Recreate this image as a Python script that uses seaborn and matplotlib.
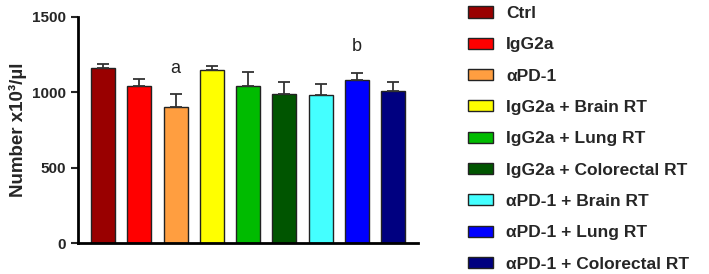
import numpy as np
import pandas as pd
import matplotlib
matplotlib.use("Agg")
import matplotlib.pyplot as plt
import seaborn as sns

groups = ["Ctrl", "IgG2a", "\u03b1PD-1", "IgG2a + Brain RT", "IgG2a + Lung RT",
          "IgG2a + Colorectal RT", "\u03b1PD-1 + Brain RT", "\u03b1PD-1 + Lung RT",
          "\u03b1PD-1 + Colorectal RT"]
means = [1163, 1044, 900, 1148, 1042, 987, 982, 1082, 1007]
sem = [25, 44, 89, 29, 95, 79, 71, 48, 64]
colors = ["#990000", "#ff0000", "#ff9e40", "#ffff00", "#00bb00",
          "#005500", "#44ffff", "#0000ff", "#000080"]
annotations = {2: "a", 7: "b"}

sns.set_style("ticks")
plt.rcParams['font.family'] = ['Liberation Sans', 'DejaVu Sans']
plt.rcParams['font.weight'] = 'bold'

df = pd.DataFrame({"group": groups, "value": means})

fig = plt.figure(figsize=(7.09, 2.74), dpi=100)
ax = fig.add_axes([0.110, 0.113, 0.480, 0.825])

sns.barplot(data=df, x="group", y="value", hue="group", palette=colors,
            order=groups, hue_order=groups, dodge=False, width=0.66, saturation=1,
            edgecolor="#222222", linewidth=1.0, errorbar=None, legend=False, ax=ax)

x = np.arange(len(groups))
ax.errorbar(x, means, yerr=[np.zeros(len(sem)), sem], fmt="none",
            ecolor="#333333", elinewidth=1.3, capsize=4, capthick=1.3, zorder=1)

for i, lab in annotations.items():
    ax.text(i, means[i] + sem[i] + 115, lab, ha="center", va="bottom",
            fontsize=13, fontweight="normal", color="#222222")

ax.set_xlim(-0.69, len(groups) - 0.31)
ax.set_ylim(0, 1500)
ax.set_yticks([0, 500, 1000, 1500])
ax.set_xticks([])
ax.set_xlabel("")
ax.set_ylabel("Number x10\u00b3/\u00b5l", fontsize=13.5, fontweight="bold", labelpad=4)
ax.tick_params(axis="y", labelsize=11, width=1.5, length=5, direction="out")
for lab in ax.get_yticklabels():
    lab.set_fontweight("bold")
sns.despine(ax=ax)
for s in ["left", "bottom"]:
    ax.spines[s].set_linewidth(2)
    ax.spines[s].set_color("black")

handles = [plt.Rectangle((0, 0), 1, 1, facecolor=c, edgecolor="#222222", linewidth=1.0)
           for c in colors]
fig.legend(handles, groups, loc="upper left", bbox_to_anchor=(0.643, 1.022),
           frameon=False, handlelength=1.45, handleheight=0.6,
           handletextpad=0.75, labelspacing=0.94, borderpad=0.2,
           prop={"weight": "bold", "size": 12.5})

fig.savefig("out.png", dpi=100)
